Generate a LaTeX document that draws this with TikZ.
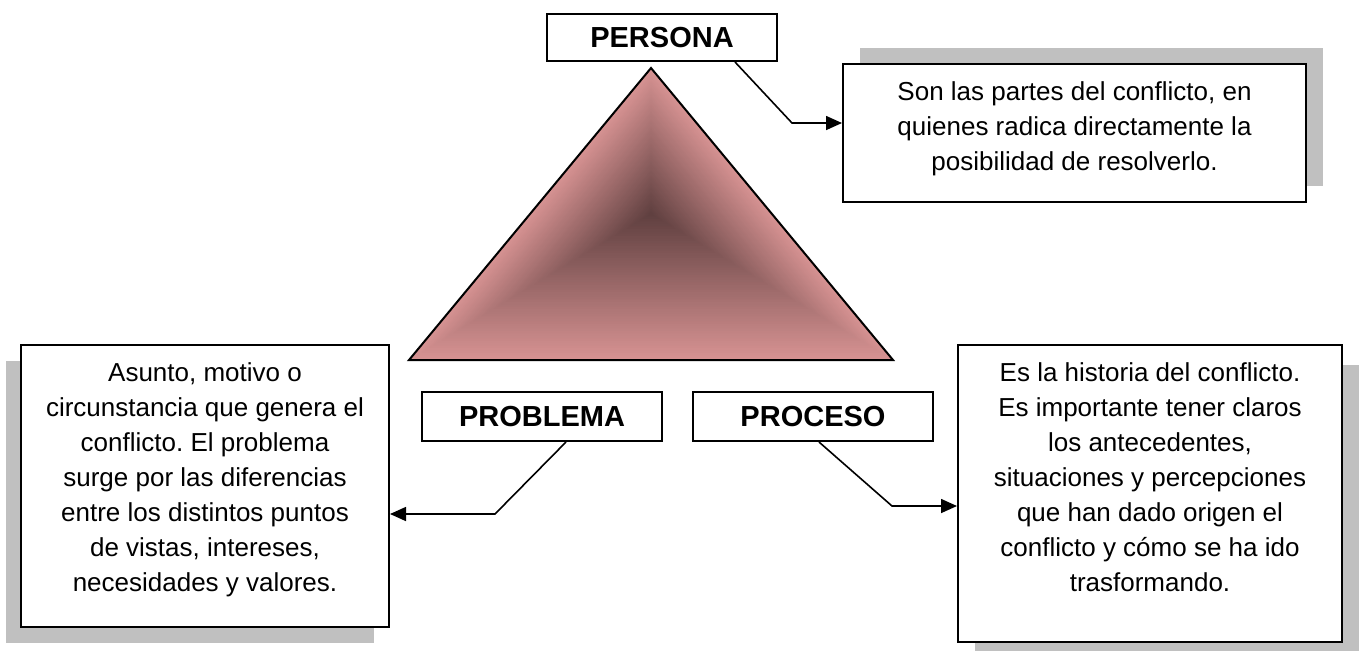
\documentclass[tikz,border=0pt]{standalone}
\usepackage{fontspec}
\setmainfont{Liberation Sans}
\usetikzlibrary{arrows.meta}
\usetikzlibrary{positioning}
\usetikzlibrary{calc}
\usetikzlibrary{shadows}
\definecolor{trpink}{RGB}{214,146,146}
\definecolor{trdark}{RGB}{96,64,64}
\definecolor{shadowgray}{RGB}{192,192,192}
\frenchspacing

\begin{document}
\begin{tikzpicture}[x=0.5pt,y=-0.5pt,
  label box/.style={draw,line width=1pt,fill=white,inner sep=0pt,
    font=\fontsize{14.5}{17}\selectfont\bfseries},
  desc box/.style={draw,line width=1pt,fill=white,inner sep=0pt},
  desc text/.style={align=center,inner sep=0pt,
    font=\fontsize{13}{17.5}\selectfont},
  conn/.style={line width=0.8pt,-{Triangle[length=8pt,width=7pt]}}]
  \useasboundingbox (0,0) rectangle (1360,650);
  \coordinate (apex) at (651,68);
  \coordinate (lft) at (409,360);
  \coordinate (rgt) at (893,360);
  \coordinate (ctr) at (651,214);
  \foreach \i in {0,...,59}{
    \pgfmathsetmacro{\s}{1-\i/60}
    \pgfmathtruncatemacro{\pct}{100*\i/59}
    \fill[trdark!\pct!trpink] ($(ctr)!\s!(apex)$) -- ($(ctr)!\s!(lft)$)
      -- ($(ctr)!\s!(rgt)$) -- cycle;
  }
  \draw[line width=1pt] (apex) -- (lft) -- (rgt) -- cycle;
  \node[label box,minimum width=115pt,minimum height=23.5pt] (persona) at (662,37.5) {PERSONA};
  \node[label box,minimum width=120pt,minimum height=24.5pt] (problema) at (542,416.5) {PROBLEMA};
  \node[label box,minimum width=120pt,minimum height=24.5pt] (proceso) at (813,416.5) {PROCESO};
  \node[desc box,minimum width=231.5pt,minimum height=69pt,
    drop shadow={shadow xshift=8.5pt,shadow yshift=8pt,fill=shadowgray,opacity=1}]
    (personadesc) at (1074.5,133) {};
  \node[desc text,below=9pt of personadesc.north] (personatxt)
    {Son las partes del conflicto, en\\quienes radica directamente la\\posibilidad de resolverlo.};
  \node[desc box,minimum width=184pt,minimum height=141pt,
    drop shadow={shadow xshift=-7.5pt,shadow yshift=-8pt,fill=shadowgray,opacity=1}]
    (problemadesc) at (205,486) {};
  \node[desc text,below=9pt of problemadesc.north] (problematxt)
    {Asunto, motivo o\\circunstancia que genera el\\conflicto. El problema\\surge por las diferencias\\entre los distintos puntos\\de vistas, intereses,\\necesidades y valores.};
  \node[desc box,minimum width=192pt,minimum height=148.5pt,
    drop shadow={shadow xshift=8.5pt,shadow yshift=-10pt,fill=shadowgray,opacity=1}]
    (procesodesc) at (1150,493.5) {};
  \node[desc text,below=9pt of procesodesc.north] (procesotxt)
    {Es la historia del conflicto.\\Es importante tener claros\\los antecedentes,\\situaciones y percepciones\\que han dado origen el\\conflicto y cómo se ha ido\\trasformando.};
  \coordinate (bendA) at (792,123);
  \coordinate (bendB) at (495,514);
  \coordinate (bendC) at (892,506);
  \draw[conn] ($(persona.south)+(73,0)$) -- (bendA) -- (bendA -| personadesc.west);
  \draw[conn] ($(problema.south)+(24,0)$) -- (bendB) -- (bendB -| problemadesc.east);
  \draw[conn] ($(proceso.south)+(6,0)$) -- (bendC) -- (bendC -| procesodesc.west);
\end{tikzpicture}
\end{document}
